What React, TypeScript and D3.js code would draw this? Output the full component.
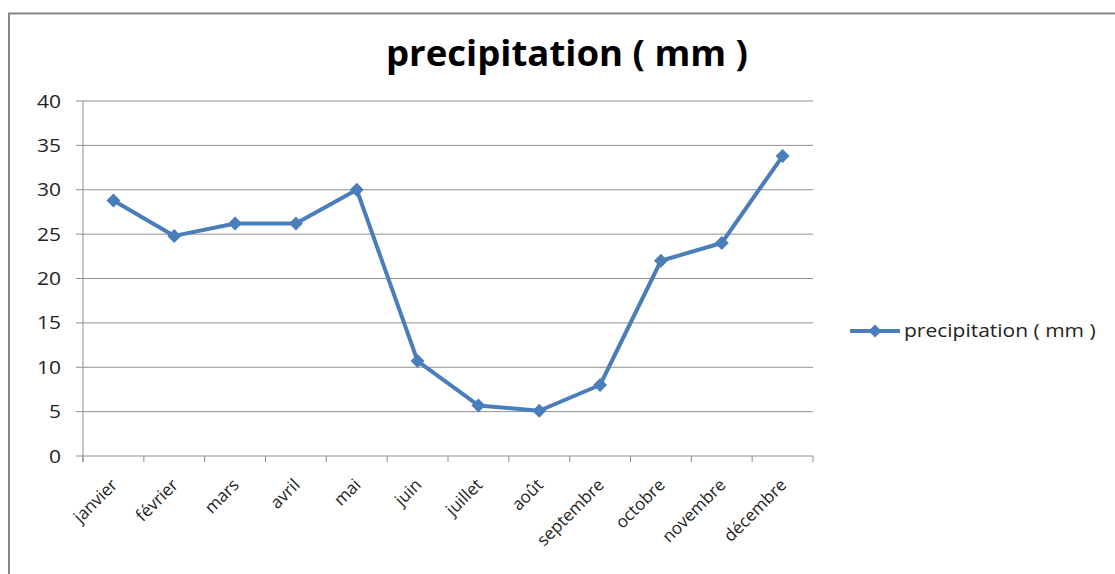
import React from "react";
import * as d3 from "d3";

const months = [
  "janvier", "février", "mars", "avril", "mai", "juin",
  "juillet", "août", "septembre", "octobre", "novembre", "décembre",
];
const precipitation = [28.8, 24.8, 26.2, 26.2, 30, 10.7, 5.7, 5.1, 8, 22, 24, 33.8];
const yTicks = [0, 5, 10, 15, 20, 25, 30, 35, 40];
const seriesName = "precipitation ( mm )";

const W = 1115;
const H = 574;
const plot = { left: 83, right: 813, top: 101, bottom: 456 };
const blue = "#4a7ebb";
const font = "'Open Sans', 'Noto Sans', sans-serif";
// text in this chart is set slightly wide
const stretch = 1.2;

function Diamond({ x, y, r }: { x: number; y: number; r: number }) {
  return <path d={`M${x},${y - r}L${x + r},${y}L${x},${y + r}L${x - r},${y}Z`} fill={blue} />;
}

export default function App() {
  const x = d3.scaleBand<string>().domain(months).range([plot.left, plot.right]);
  const y = d3.scaleLinear().domain([0, 40]).range([plot.bottom, plot.top]);
  const cx = (m: string) => (x(m) ?? 0) + x.bandwidth() / 2;

  const line = d3
    .line<number>()
    .x((_, i) => cx(months[i]))
    .y((d) => y(d));

  const tickXs = months.map((m) => x(m) ?? 0).concat([plot.right]);

  return (
    <svg width={W} height={H} style={{ position: "absolute", left: 0, top: 0 }}>
      <rect x={0} y={0} width={W} height={H} fill="#fff" />
      {/* chart frame */}
      <path d={`M9,${H}V13.5H${W}`} fill="none" stroke="#868686" strokeWidth={2} />

      <text
        x={386}
        y={66}
        textLength={362}
        lengthAdjust="spacingAndGlyphs"
        fontFamily={font}
        fontWeight="bold"
        fontSize={36}
        fill="#000"
      >
        {seriesName}
      </text>

      {/* gridlines */}
      {yTicks.map((t) => (
        <line key={t} x1={plot.left - 7} x2={plot.right} y1={y(t)} y2={y(t)} stroke="#8f8f8f" strokeWidth={1} />
      ))}
      {/* axes */}
      <line x1={plot.left} x2={plot.left} y1={plot.top} y2={plot.bottom + 6} stroke="#8f8f8f" />
      {tickXs.map((tx, i) => (
        <line key={i} x1={tx} x2={tx} y1={plot.bottom} y2={plot.bottom + 6} stroke="#8f8f8f" />
      ))}

      {yTicks.map((t) => (
        <text
          key={t}
          transform={`translate(61,${y(t) + 6.5}) scale(${stretch},1)`}
          textAnchor="end"
          fontFamily={font}
          fontSize={17.5}
          fill="#222"
        >
          {t}
        </text>
      ))}

      {months.map((m) => (
        <text
          key={m}
          transform={`translate(${cx(m) + 5},${plot.bottom + 30}) rotate(-45)`}
          textAnchor="end"
          fontFamily={font}
          fontSize={17}
          fill="#222"
        >
          {m}
        </text>
      ))}

      <path d={line(precipitation) ?? ""} fill="none" stroke={blue} strokeWidth={4} strokeLinejoin="round" />
      {precipitation.map((v, i) => (
        <Diamond key={i} x={cx(months[i])} y={y(v)} r={7} />
      ))}

      {/* legend */}
      <line x1={850} x2={900} y1={331} y2={331} stroke={blue} strokeWidth={4} />
      <Diamond x={875} y={331} r={6.5} />
      <text
        transform={`translate(904,337) scale(${stretch},1)`}
        fontFamily={font}
        fontSize={17.5}
        fill="#222"
      >
        {seriesName}
      </text>
    </svg>
  );
}
